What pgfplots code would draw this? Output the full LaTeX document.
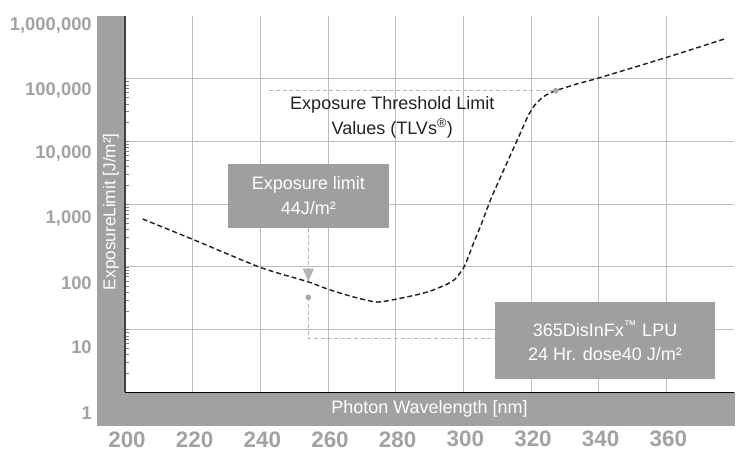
\documentclass[border=0pt]{standalone}
\usepackage{pgfplots}
\pgfplotsset{compat=1.18}
\usepackage{fontspec}
\setmainfont{Liberation Sans}
\usetikzlibrary{arrows.meta}
\definecolor{band}{RGB}{159,161,162}
\definecolor{boxgray}{RGB}{157,159,160}
\definecolor{lblgray}{RGB}{160,162,164}
\definecolor{gridgray}{RGB}{188,189,193}
\definecolor{annogray}{RGB}{180,182,184}
\definecolor{dotgray}{RGB}{165,167,169}
\definecolor{darktext}{RGB}{31,36,40}
\begin{document}
\begin{tikzpicture}
\begin{axis}[
  set layers,
  width=456.75pt, height=282.225pt, scale only axis,
  at={(0pt,0pt)}, anchor=south west,
  xmin=200, xmax=380, ymin=1, ymax=1000000, ymode=log,
  axis lines*=left,
  x axis line style={draw=black, line width=1.1pt, -},
  y axis line style={draw=black!75, line width=1.1pt, -},
  xtick={200,220,240,260,280,300,320,340,360},
  xticklabels={200,220,240,260,280,300,320,340,360},
  ytick={1,10,100,1000,10000,100000},
  yticklabels={,,,,,},
  grid=major,
  major grid style={draw=gridgray, line width=0.75pt},
  major tick length=0pt,
  xticklabel style={font=\bfseries\fontsize{16.8}{16.8}\selectfont, text=lblgray, anchor=center, yshift=-35.25pt, xshift=1.5pt, inner sep=0pt},
  yticklabel style={font=\bfseries\fontsize{13.8}{13.8}\selectfont, text=lblgray, anchor=east, inner sep=0pt, xshift=-24.75pt},
  extra y ticks={5.27,55.3,601,6530,66070,717800},
  extra y tick labels={10,100,{1,000},{10,000},{100,000},{1,000,000}},
  extra y tick style={grid=none, major tick length=0pt},
  clip=false,
  xlabel={Photon Wavelength [nm]},
  ylabel={ExposureLimit [J/m²]},
  xlabel style={at={(axis description cs:0.5,-0.0444)}, anchor=center, text=white, font=\fontsize{13.5}{13.5}\selectfont},
  ylabel style={at={(axis description cs:-0.023,0.48)}, anchor=center, text=white, font=\fontsize{12.9}{12.9}\selectfont},
]
\begin{pgfonlayer}{axis background}
\fill[band] (rel axis cs:-0.046,-0.0888) rectangle (rel axis cs:0,1);
\fill[band] (rel axis cs:-0.046,-0.0888) rectangle (rel axis cs:1.0016,0);
\end{pgfonlayer}

% TLV curve
\addplot[darktext, line width=1.1pt, dash pattern=on 3.75pt off 2.25pt, smooth, tension=0.4] coordinates {
(205.2,580) (220,275) (240,98) (254,58) (260,44) (267.3,33.4) (274.4,27.5)
(280.3,30.7) (287.2,36.9) (291.1,42.8) (295.1,52.7) (297.5,63.4) (300,94.8)
(301.5,145.6) (303.0,237.7) (305.4,492) (307.9,1122) (310.8,2563)
(313.8,5855) (316.8,13374) (319.1,25430) (320.9,36700) (322.7,46600)
(324.7,55980) (327.3,64400) (333.5,82300) (340,102600)
(360.1,219000) (377.8,441000)
};

% threshold guide
\draw[annogray, line width=0.75pt, dash pattern=on 3pt off 2pt] (axis cs:242.65,64400) -- (axis cs:327.3,64400);
\node[darktext, align=center, font=\fontsize{13.5}{18.75}\selectfont] at (axis cs:279.0,24040) {Exposure Threshold Limit\\Values (TLVs\textsuperscript{®})};

% exposure limit box + arrow
\draw[annogray, line width=0.9pt, dash pattern=on 3pt off 2pt, -{Triangle[width=8.25pt,length=9.75pt]}] (axis cs:254.2,417) -- (axis cs:254.2,58);
\node[fill=boxgray, text=white, minimum width=120.75pt, minimum height=47.8pt, align=center, inner sep=0pt, font=\fontsize{13.5}{18.75}\selectfont] at (axis cs:254.2,1349) {Exposure limit\\44J/m²};

% LPU guide
\draw[annogray, line width=0.75pt, dash pattern=on 3pt off 2pt] (axis cs:254.2,32.7) -- (axis cs:254.2,7.26) -- (axis cs:309.4,7.26);
\node[fill=boxgray, text=white, minimum width=165pt, minimum height=58.2pt, align=center, inner sep=0pt, font=\fontsize{13.5}{18}\selectfont] at (axis cs:341.9,6.7) {365DisInFx\textsuperscript{™} LPU\\24 Hr. dose40 J/m²};

\addplot[only marks, mark=*, mark size=1.9pt, color=dotgray] coordinates {(327.3,64400) (254.2,32.7)};

\node[anchor=east, inner sep=0pt, text=lblgray, font=\bfseries\fontsize{13.8}{13.8}\selectfont, xshift=-24.75pt] at (rel axis cs:0,-0.0558) {1};
\end{axis}
\pgfresetboundingbox
\path (-93.75pt,-43.275pt) rectangle (462pt,294.225pt);
\end{tikzpicture}
\end{document}
